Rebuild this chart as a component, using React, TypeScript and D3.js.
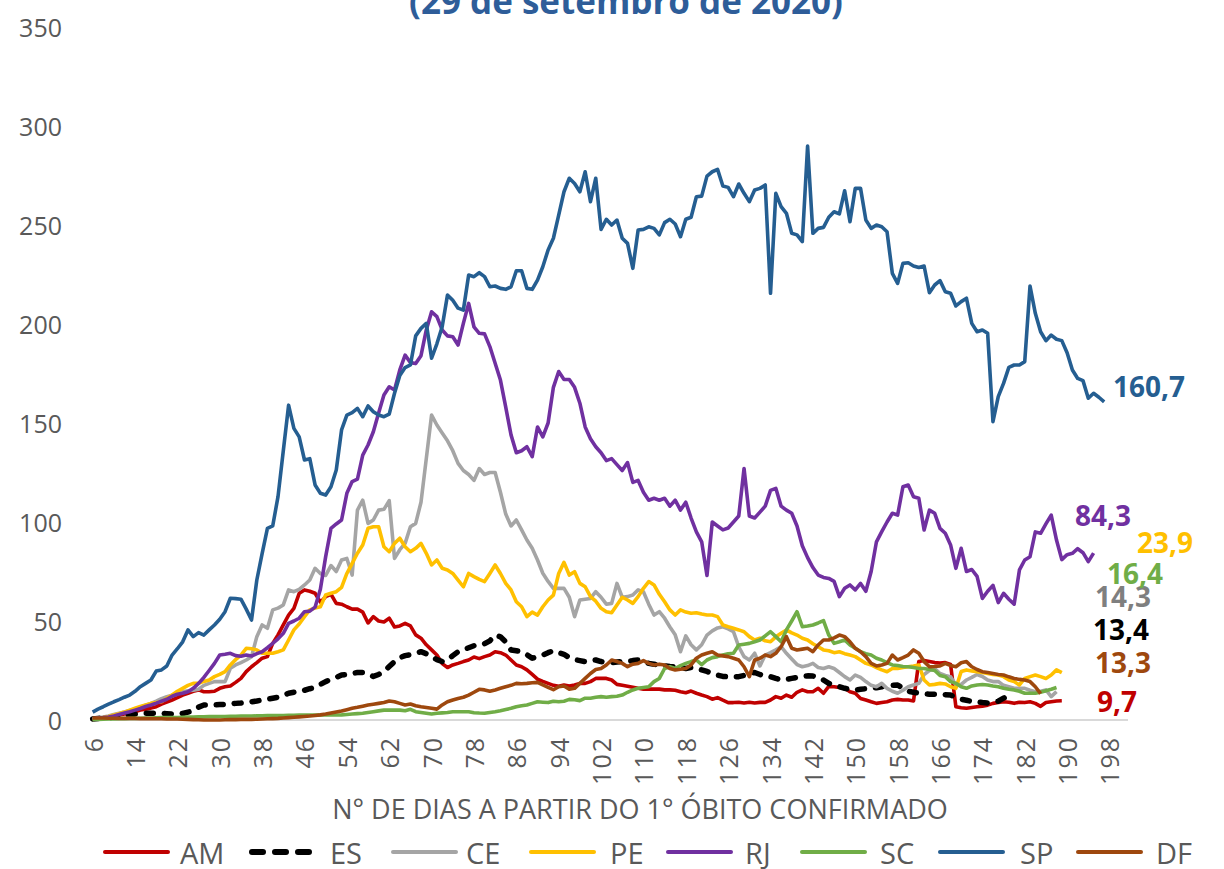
import React from "react";
import * as d3 from "d3";

// ---------- DATA ----------
const START_DAY = 6;
const seriesNames = ["AM", "ES", "CE", "PE", "RJ", "SC", "SP", "DF"];

const amValues = [
  0.5, 1, 1.2, 1.5, 2, 2.5, 3, 3.5, 4.2, 5,
  5.5, 6, 6.7, 8, 9, 10.1, 11.3, 12.6, 13.5, 14.5,
  15.2, 14.3, 14.3, 14.5, 16, 16.8, 17.2, 19, 21, 24.4,
  26.9, 29, 31.2, 32, 38.7, 43, 48, 53, 56.4, 64,
  65.7, 65, 64, 59.5, 62.3, 63.5, 58.9, 58.5, 57.2, 56,
  56, 54.5, 49, 52.2, 50, 49.5, 51.4, 47, 47.5, 48.8,
  47.5, 43, 41.3, 38, 35.4, 32.8, 28.5, 26.5, 27.8, 28.6,
  29.5, 30.3, 31.8, 31, 32, 32.8, 34.5, 34, 32.8, 30.3,
  27.8, 26.9, 25.3, 23, 20.6, 19.5, 18.5, 17.5, 17, 17.7,
  17.2, 17.7, 18.5, 18.5, 19.4, 21, 21, 21, 20.2, 18,
  17.5, 17, 16.5, 16, 15.6, 15.6, 15.6, 15.6, 15.2, 15.2,
  15, 14.3, 13.8, 14.6, 13.5, 12.6, 11.8, 10.5, 11.3, 10,
  8.8, 8.8, 9, 8.6, 9, 8.6, 8.9, 8.9, 10.1, 11.8,
  11, 12.6, 11.5, 14, 15.2, 14.3, 14.3, 16, 13.5, 17,
  16.8, 16.4, 16, 14.3, 13.5, 10.9, 10.1, 9.2, 8.4, 8.8,
  9.2, 10.1, 10.4, 10.1, 10.1, 9.6, 29.5, 30, 29.5, 29,
  28.8, 29, 28, 6.7, 6.2, 5.9, 6.3, 6.7, 7, 7.5,
  8.4, 8.8, 9.2, 9, 8.4, 9, 8.8, 9.2, 8.4, 6.9,
  8.8, 9.2, 9.6, 9.7,
];

const esValues = [
  0.5, 0.8, 1, 1.2, 1.5, 1.8, 2, 2.5, 3, 3.2,
  3.4, 3.4, 3.4, 3.4, 3.2, 3, 3, 3.3, 4, 4.5,
  6.5, 7.6, 7.6, 7.6, 7.8, 7.9, 8.1, 8.4, 8.6, 9,
  9.2, 9.6, 10.1, 10.5, 11, 11.5, 12.5, 13.5, 14, 14.3,
  15, 15.8, 16.5, 18, 19.4, 20.5, 21.5, 22.7, 23, 23.5,
  24, 24, 23, 22, 23, 24.5, 27, 29.5, 31.5, 32.5,
  33, 33.7, 34.5, 33.5, 32, 30.5, 29.5, 30.3, 32.5, 34.5,
  35.5, 36.5, 37.5, 38, 38.5, 40, 42.9, 42, 39.5, 35.4,
  35, 34.5, 33, 31.2, 32, 32.8, 34, 35, 34, 33.2,
  31.5, 30.5, 30, 29.5, 30, 30.3, 29.5, 29.3, 29, 29.3,
  29.5, 29.5, 30, 30.3, 29.5, 28.6, 28.2, 27.5, 27.3, 27,
  26.9, 26.5, 26, 26.5, 26, 25.3, 24.5, 23.5, 22.7, 22,
  21.9, 21.9, 21.9, 22.5, 23.5, 24, 23, 22, 21.9, 21,
  20.2, 20.5, 21, 21.5, 21.9, 22.3, 22.2, 21.5, 20.2, 18.5,
  17.5, 16.8, 16, 15.5, 15.2, 15.5, 15.8, 16, 16.3, 16.8,
  17, 17.5, 17.7, 16, 14.5, 14, 13.5, 13.2, 13, 13,
  13, 12.8, 12.6, 11.5, 10.5, 10, 9.4, 9.2, 8.8, 8.6,
  9, 9.5, 11, 12.5, 13.4,
];

const ceValues = [
  0.5, 1, 1.5, 2, 2.8, 3.4, 4, 4.8, 5.5, 6.5,
  7.5, 8.4, 9.5, 10.8, 11.8, 12.5, 13.5, 14.3, 14.8, 15,
  15.5, 17.5, 18.5, 19.4, 19.4, 19.4, 26.1, 27.8, 29, 30.3,
  32, 42.1, 48, 46.3, 55.6, 56.5, 58.1, 65.7, 64.8, 66,
  68.2, 70.7, 76.6, 74, 73, 78, 75, 80.8, 81.6, 73.2,
  106, 111, 99.3, 101, 106, 106.4, 110.8, 81.6, 86, 89.2,
  97.6, 99.3, 110, 132, 154, 149, 145, 141, 136, 129.6,
  126, 124, 121, 127, 124, 125, 125, 115, 104, 98,
  101, 96, 90.9, 86.7, 80.8, 74.1, 70, 66.5, 66.5, 66.5,
  62, 52.2, 60.6, 61, 61.4, 64.8, 62, 58.5, 58.9, 69,
  62, 62.3, 63.1, 65.7, 64.8, 58.5, 53, 54.7, 51.4, 47,
  43, 34.5, 42.5, 38, 35.4, 38, 42.9, 45, 46.5, 47.1,
  46, 44.6, 37, 32, 30.3, 33.7, 27.3, 32.8, 34, 35.4,
  37, 33.7, 30.8, 28, 26.9, 27.5, 28.6, 26.5, 26, 26.9,
  26, 24, 21.9, 20.2, 22.7, 21.5, 19.4, 17.5, 16.8, 18.5,
  16, 14.5, 13.5, 15, 16.8, 17.7, 18.5, 23, 25, 26,
  23.5, 22.5, 21.9, 17.7, 18, 20.2, 21.5, 23, 22, 20.2,
  19.4, 19.4, 17.5, 16.8, 16, 16, 16, 15, 14.3, 14.5,
  15.2, 11.8, 14.3,
];

const peValues = [
  0.3, 0.8, 1.2, 1.8, 2.5, 3.2, 4, 5, 5.9, 6.8,
  7.6, 8.4, 8.8, 9.2, 11, 12.6, 14.5, 16, 17.5, 18.5,
  18.5, 19.5, 20.2, 21.9, 23, 24.4, 27.8, 30.5, 32.8, 36.2,
  36, 35.4, 33.7, 33.7, 33.7, 34.5, 35.4, 40.4, 45.5, 48.5,
  52.2, 55.6, 56.5, 57.2, 63.1, 64, 64.8, 67, 74, 79.1,
  84.2, 88.4, 96.8, 97.6, 97.6, 87.5, 85, 89.2, 91.8, 87.5,
  85, 86.7, 89.2, 84.2, 78.3, 80.8, 76.6, 75.8, 74, 70.7,
  67.3, 74, 72.4, 71, 69.9, 74, 78.3, 74, 69, 65.7,
  59.7, 57.2, 52.2, 54.5, 53, 57.2, 60.6, 63.1, 74, 79.6,
  73.2, 74.9, 69, 67.3, 62.3, 60, 56.4, 54.7, 54.2, 58.1,
  62, 60.6, 58.9, 62.3, 66.5, 69.9, 68.2, 63.5, 59.7, 55.6,
  53, 55.6, 54.5, 53.9, 54.2, 53.5, 53, 53, 52.2, 48,
  47.1, 46.3, 45.5, 44.6, 42.1, 40.4, 41.3, 40, 39.5, 42,
  43.8, 45.5, 44, 42.9, 41.3, 40.4, 38.5, 37, 35.4, 35,
  34, 34.5, 33.5, 32.8, 32, 30.3, 28.6, 27.8, 26.5, 25.3,
  24.4, 26, 26, 26.5, 26.9, 27.3, 27.8, 20.2, 17.7, 18,
  18.5, 18.2, 16.8, 16, 24.5, 25.3, 24.8, 24.4, 24, 23.5,
  23, 22.7, 21.9, 20.2, 19.4, 17.7, 21, 21.9, 22.7, 21.9,
  21, 22.7, 25.3, 23.9,
];

const rjValues = [
  0.5, 1, 1.2, 1.5, 2, 2.8, 3.5, 4.2, 5, 5.8,
  6.8, 7.6, 8.5, 9.5, 10.5, 12, 13, 13.5, 14.3, 16,
  18.5, 21.5, 25, 28.6, 32.8, 33.2, 33.7, 32.5, 32.2, 32.8,
  32.3, 33.5, 34.5, 36.5, 38.7, 41, 43.8, 48.8, 50, 51.4,
  54.7, 55, 57, 66, 82.5, 96.8, 99, 101, 114.5, 120.4,
  121.6, 133.8, 138.9, 145.6, 155, 164.1, 168.3, 166.7, 176.8, 184.3,
  180.5, 180, 184, 197, 206.2, 203.7, 197, 194, 193.6, 189.4,
  200.3, 210.4, 198.6, 195.3, 195, 188.6, 180.2, 171.7, 158, 144,
  135, 136, 138, 133, 148, 143, 150, 168, 176, 172,
  172, 168, 160, 148, 142, 138, 135, 131, 132, 129,
  126, 130, 120, 121, 115, 111, 112, 111, 112, 108,
  111, 106, 110, 102, 95, 90, 73, 100, 98, 96,
  97, 100, 103, 127, 103, 102, 105, 108, 116, 117,
  108, 106, 104.4, 98, 88, 82, 77, 73.2, 72, 71.5,
  70, 62.3, 66.5, 68.2, 65.7, 69, 65, 75, 90, 95.1,
  100, 104.4, 103.5, 117.8, 118.7, 112.8, 112, 96, 106, 104.4,
  96.8, 94.3, 88.4, 76.6, 86.7, 75, 76, 72.5, 61.4, 65,
  68, 59.3, 64, 61, 58.5, 75.8, 80.8, 82.5, 95, 94.3,
  99, 103.5, 90.9, 81, 83.5, 84.2, 86.5, 84.5, 80, 84.3,
];

const scValues = [
  0.3, 0.3, 0.4, 0.5, 0.5, 0.6, 0.7, 0.8, 0.8, 0.9,
  1, 1, 1.1, 1.2, 1.2, 1.3, 1.3, 1.4, 1.5, 1.5,
  1.6, 1.6, 1.7, 1.7, 1.8, 1.8, 1.9, 1.9, 2, 2,
  2, 2.1, 2.1, 2.2, 2.2, 2.3, 2.3, 2.4, 2.4, 2.5,
  2.5, 2.5, 2.5, 2.5, 2.5, 2.5, 2.5, 2.6, 2.8, 3,
  3.2, 3.4, 3.8, 4.2, 4.6, 5, 5, 5, 5, 4.7,
  5.4, 4.2, 3.8, 3.4, 3, 3.4, 3.6, 3.8, 4.2, 4.2,
  4.2, 4.2, 3.7, 3.5, 3.4, 3.8, 4.2, 4.7, 5.3, 5.9,
  6.7, 7.2, 7.6, 8.4, 9.2, 9, 8.8, 9.5, 9.2, 9.5,
  10.4, 10.2, 9.8, 11, 11, 11.5, 11.8, 11.5, 11.8, 12,
  12.6, 14, 15.2, 16, 16.4, 16.8, 19.4, 21, 26, 26.9,
  26, 27.5, 28.6, 29.5, 30.3, 28, 30.3, 31.5, 32, 32.8,
  33.5, 33.7, 37.9, 38.3, 38.7, 39.5, 40.4, 42.5, 44.6, 42.1,
  39.5, 45.5, 50, 54.7, 47.1, 47.5, 48, 49, 50.2, 42.9,
  38.7, 39.5, 40.4, 37.9, 36.2, 34.5, 33.5, 32.8, 31.2, 30.3,
  29, 27.8, 27.5, 27, 26.9, 26.5, 26, 26, 25.5, 25,
  22.5, 21.9, 19.4, 18.5, 16.8, 16, 17.2, 17.7, 17.9, 17.7,
  17.2, 16.8, 16, 15.5, 15.2, 14.5, 13.5, 13.5, 13.5, 14,
  14.8, 15.5, 16.4,
];

const spValues = [
  4, 5.5, 6.7, 8, 9.2, 10.3, 11.5, 12.6, 14.5, 16.8,
  18.5, 20.2, 24.7, 25.3, 27.3, 32.8, 36, 39.5, 45.5, 42.1,
  44.1, 42.9, 45.5, 48, 50.9, 54.7, 61.5, 61.3, 61, 56,
  50.5, 70.7, 84, 96.8, 98, 112.8, 136, 159, 147.3, 143,
  131.3, 132, 118.7, 114.5, 113.6, 117.8, 126.3, 146.5, 154, 155.2,
  157.4, 153.2, 158.6, 155.7, 154, 153.2, 154.5, 165, 174, 178,
  179.3, 194, 197.8, 200.3, 182.7, 190, 198.6, 214.6, 212, 208,
  207, 224.7, 223.9, 225.9, 223.9, 218.8, 219.2, 218, 217.5, 218.8,
  226.9, 226.9, 218, 217.5, 222.2, 228.9, 237.4, 243.3, 255, 266.8,
  273.6, 271, 266.8, 276.9, 261.8, 273.6, 247.8, 252.9, 250, 252.5,
  243.3, 240.7, 228.1, 247.5, 247.8, 249.1, 248.3, 245, 251.2, 252.9,
  250.5, 244.1, 252.9, 253.9, 264.3, 264.6, 274.7, 276.9, 278.1, 269.7,
  269, 264.3, 270.7, 266, 261.8, 267.7, 268.5, 270.2, 215.5, 266,
  259.3, 255.9, 245.8, 245, 241.6, 289.9, 245.8, 248.3, 248.8, 253.9,
  256.7, 255.6, 267.3, 251.7, 268.5, 268.5, 252.5, 248.3, 250, 249.1,
  246.6, 225.6, 220.5, 230.6, 230.9, 229.3, 228.5, 229.3, 215.8, 219.7,
  221.9, 216.3, 215.5, 209.1, 211.3, 213, 200.3, 196.1, 197, 195.3,
  150.7, 163.3, 170, 178.1, 179.3, 179.3, 181, 219.2, 205.4, 196.1,
  191.6, 194.4, 192.3, 191.6, 185.5, 176.8, 172.5, 171.4, 162.5, 165,
  163, 160.7,
];

const dfValues = [
  1, 1, 1, 0.9, 0.9, 0.8, 0.8, 0.8, 0.8, 0.7,
  0.7, 0.7, 0.6, 0.6, 0.5, 0.5, 0.5, 0.4, 0.3, 0.2,
  0.1, 0, 0, 0, 0, 0.1, 0.2, 0.2, 0.3, 0.3,
  0.3, 0.4, 0.5, 0.6, 0.7, 0.8, 1, 1.2, 1.4, 1.6,
  1.8, 2, 2.3, 2.6, 3, 3.5, 4, 4.5, 5.2, 5.9,
  6.4, 7, 7.6, 8, 8.4, 8.8, 9.6, 9.2, 8.4, 7.6,
  8.1, 7.2, 6.7, 6.3, 5.9, 5.5, 7.6, 9.2, 10.1, 10.9,
  11.5, 12.6, 14, 15.5, 15.2, 14.5, 15.2, 16, 16.8, 17.5,
  18.5, 18.3, 18.5, 18.8, 19, 17.7, 16.5, 15.3, 16.8, 17.2,
  15.6, 16, 18.5, 21, 23.5, 25.5, 26, 27.8, 30.3, 29.5,
  28.6, 26.9, 28.2, 28.6, 30, 28.6, 27.8, 28.2, 27.8, 26,
  25.3, 25.6, 26, 27.8, 31.2, 32.8, 33.7, 34.5, 32.8, 32.4,
  32, 31.2, 30.3, 26.9, 21.9, 30.3, 31.2, 32.8, 32, 33.7,
  37, 42.1, 36.2, 35.4, 35.8, 36.2, 34.5, 37.9, 40.4, 40.4,
  41.5, 42.9, 42.1, 39.5, 36.2, 34.5, 32, 28.6, 27.3, 27.8,
  28.6, 32.8, 30.3, 31.5, 32.8, 35.4, 33.7, 29.5, 26.9, 27,
  27.3, 28.6, 27.5, 26.9, 28.9, 29.5, 26.9, 25.5, 24.4, 24,
  23.5, 23, 22.7, 21.8, 21, 20.5, 20.2, 19.4, 16.8, 13.3,
];

const endLabels = ["9,7", "13,4", "14,3", "23,9", "84,3", "16,4", "160,7", "13,3"];
const xTickLabels = ["6", "14", "22", "30", "38", "46", "54", "62", "70", "78", "86", "94", "102", "110", "118", "126", "134", "142", "150", "158", "166", "174", "182", "190", "198"];
const yTickValues = [0, 50, 100, 150, 200, 250, 300, 350];
const titleText = "(29 de setembro de 2020)";
const xAxisTitle = "N° DE DIAS A PARTIR DO 1° ÓBITO CONFIRMADO";

const allValues = [amValues, esValues, ceValues, peValues, rjValues, scValues, spValues, dfValues];

// ---------- STYLE / LAYOUT ----------
const lineColors = ["#C00000", "#000000", "#A5A5A5", "#FFC000", "#7030A0", "#70AD47", "#255E91", "#9E480E"];
const labelColors = ["#C00000", "#000000", "#7F7F7F", "#FFC000", "#7030A0", "#70AD47", "#255E91", "#9E480E"];
const labelPos: [number, number][] = [
  [1097, 701], [1093, 629], [1095, 596], [1137, 542], [1075, 515], [1107, 573], [1113, 386], [1095, 662],
];
const legendPos: [number, number][] = [
  [105, 180], [252, 330], [393, 466], [531, 610], [668, 745], [802, 880], [940, 1020], [1078, 1156],
];
const FONT = "'Open Sans', 'Noto Sans', sans-serif";
const W = 1224;
const H = 869;

export default function App() {
  const x = d3.scaleLinear().domain([5.5, 201.5]).range([90, 1128]);
  const y = d3.scaleLinear().domain([0, 350]).range([720, 27]);
  const line = d3
    .line<[number, number]>()
    .x((d) => x(d[0]))
    .y((d) => y(d[1]))
    .curve(d3.curveLinear);

  const series = seriesNames.map((name, i) => ({
    name,
    color: lineColors[i],
    points: allValues[i].map((v, j) => [START_DAY + j, v] as [number, number]),
  }));

  return (
    <div style={{ position: "absolute", left: 0, top: 0, width: W, height: H, background: "#fff" }}>
      <svg width={W} height={H} style={{ display: "block" }}>
        <rect x={0} y={0} width={W} height={H} fill="#ffffff" />
        <text
          x={626}
          y={14}
          textAnchor="middle"
          fontFamily={FONT}
          fontWeight={700}
          fontSize={35}
          fill="#2E5D99"
        >
          {titleText}
        </text>

        {yTickValues.map((v) => (
          <text
            key={v}
            x={62}
            y={y(v)}
            textAnchor="end"
            dominantBaseline="central"
            fontFamily={FONT}
            fontSize={25}
            fill="#595959"
          >
            {v}
          </text>
        ))}

        <line x1={90} x2={1128} y1={y(0)} y2={y(0)} stroke="#D9D9D9" strokeWidth={2} />

        {xTickLabels.map((t) => {
          const px = x(+t);
          return (
            <text
              key={t}
              transform={`translate(${px},736) rotate(-90)`}
              textAnchor="end"
              dominantBaseline="central"
              fontFamily={FONT}
              fontSize={25}
              letterSpacing={2}
              fill="#595959"
            >
              {t}
            </text>
          );
        })}

        <text
          x={640}
          y={808}
          textAnchor="middle"
          dominantBaseline="central"
          fontFamily={FONT}
          fontSize={27}
          fill="#595959"
        >
          {xAxisTitle}
        </text>

        {series.map((s) => (
          <path
            key={s.name}
            d={line(s.points) || ""}
            fill="none"
            stroke={s.color}
            strokeWidth={s.name === "ES" ? 5.5 : 3.6}
            strokeLinejoin="round"
            strokeLinecap={s.name === "ES" ? "round" : "butt"}
            strokeDasharray={s.name === "ES" ? "7 11" : undefined}
          />
        ))}

        {series.map((s, i) => (
          <text
            key={"lab" + s.name}
            x={labelPos[i][0]}
            y={labelPos[i][1]}
            dominantBaseline="central"
            fontFamily={FONT}
            fontWeight={700}
            fontSize={28}
            fill={labelColors[i]}
          >
            {endLabels[i]}
          </text>
        ))}

        {series.map((s, i) => (
          <g key={"leg" + s.name}>
            <line
              x1={legendPos[i][0]}
              x2={legendPos[i][0] + 63}
              y1={852}
              y2={852}
              stroke={s.color}
              strokeWidth={s.name === "ES" ? 6 : 4}
              strokeLinecap="round"
              strokeDasharray={s.name === "ES" ? "11 12" : undefined}
            />
            <text
              x={legendPos[i][1]}
              y={852}
              dominantBaseline="central"
              fontFamily={FONT}
              fontSize={29}
              fill="#595959"
            >
              {s.name}
            </text>
          </g>
        ))}
      </svg>
    </div>
  );
}
